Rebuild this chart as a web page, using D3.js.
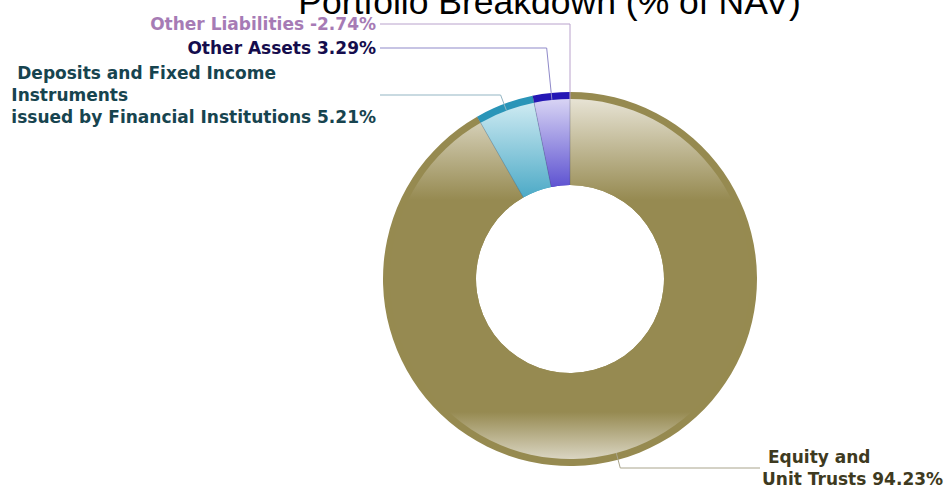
<!DOCTYPE html>
<html>
<head>
<meta charset="utf-8">
<script src="https://cdn.jsdelivr.net/npm/d3@7/dist/d3.min.js"></script>
<style>
  html, body { margin: 0; padding: 0; background: #fff; overflow: hidden; }
  svg { display: block; }
  .lbl { font-family: "DejaVu Sans", Verdana, sans-serif; font-weight: bold; font-size: 17px; white-space: pre; }
</style>
</head>
<body>
<svg id="chart" width="949" height="487"></svg>
<script>
// ---- data ----
const title = "Portfolio Breakdown (% of NAV)";
const categories = ["Equity and Unit Trusts", "Deposits and Fixed Income Instruments issued by Financial Institutions", "Other Assets", "Other Liabilities"];
const values = [94.23, 5.21, 3.29, -2.74];
const labelLines = [[" Equity and", "Unit Trusts"], [" Deposits and Fixed Income", "Instruments", "issued by Financial Institutions"], ["Other Assets"], ["Other Liabilities"]];

// ---- styles ----
const ringColors  = ["#968A50", "#2A95B8", "#2517B5", "#A67BB5"];
const baseColors  = ["#968A51", "#49A8C5", "#4C40CC", "#A67BB5"];
const topColors   = ["#E7E3D4", "#D3EDF4", "#D8D4F4", "#E0D0EA"];
const botColors   = ["#DAD5C2", "#C8E6EE", "#CCC8F0", "#E0D0EA"];
const textColors  = ["#3E3A20", "#17444F", "#150D4D", "#A67BB5"];
const lineColors  = ["#A9A48C", "#93B5C3", "#8F89C9", "#B9A2CC"];
const labelY      = [468, 95, 48, 24];
const labelSide   = ["right", "left", "left", "left"];

const W = 949, H = 487;
const cx = 570, cy = 279, R = 187, Rin = 180, hole = 94;
const svg = d3.select("#chart");

const data = categories.map((c, i) => ({ name: c, value: values[i], i }));
const pie = d3.pie().sort(null).value(d => d.value).startAngle(0).endAngle(2 * Math.PI);
const arcs = pie(data);

const defs = svg.append("defs");
arcs.forEach((a, i) => {
  // local (centered) coordinates
  const g = defs.append("linearGradient")
    .attr("id", "grad" + i)
    .attr("gradientUnits", "userSpaceOnUse")
    .attr("x1", 0).attr("x2", 0)
    .attr("y1", -Rin).attr("y2", Rin);
  const yOff = y => (y - (cy - Rin)) / (2 * Rin);
  g.append("stop").attr("offset", 0).attr("stop-color", topColors[i]);
  g.append("stop").attr("offset", yOff(200)).attr("stop-color", baseColors[i]);
  g.append("stop").attr("offset", yOff(412)).attr("stop-color", baseColors[i]);
  g.append("stop").attr("offset", 1).attr("stop-color", botColors[i]);
});

const gPie = svg.append("g").attr("transform", `translate(${cx},${cy})`);
const ringArc = d3.arc().innerRadius(hole).outerRadius(R);
const innerArc = d3.arc().innerRadius(hole).outerRadius(Rin);

const drawn = arcs.filter(a => a.endAngle - a.startAngle > 0);
gPie.selectAll("path.ring").data(drawn).enter().append("path")
  .attr("class", "ring")
  .attr("d", ringArc)
  .attr("fill", d => ringColors[d.index]);

gPie.selectAll("path.inner").data(drawn).enter().append("path")
  .attr("class", "inner")
  .attr("d", innerArc)
  .attr("fill", d => `url(#grad${d.index})`);

// separators
gPie.selectAll("line.sep").data(drawn).enter().append("line")
  .attr("class", "sep")
  .attr("x1", d => hole * Math.sin(d.startAngle))
  .attr("y1", d => -hole * Math.cos(d.startAngle))
  .attr("x2", d => R * Math.sin(d.startAngle))
  .attr("y2", d => -R * Math.cos(d.startAngle))
  .attr("stroke", "rgba(70,70,90,0.35)")
  .attr("stroke-width", 0.8);

// leader lines & labels
const fmt = v => v.toFixed(2);
const gLab = svg.append("g");
arcs.forEach((a, i) => {
  const mid = (a.startAngle + a.endAngle) / 2;
  const sx = cx + Rin * Math.sin(mid), sy = cy - Rin * Math.cos(mid);
  const ly = labelY[i];
  const t = (ly - cy) / (-Math.cos(mid));
  const ex = cx + t * Math.sin(mid);
  const endX = labelSide[i] === "left" ? 380 : 760;
  gLab.append("polyline")
    .attr("points", `${sx},${sy} ${ex},${ly} ${endX},${ly}`)
    .attr("fill", "none")
    .attr("stroke", lineColors[i])
    .attr("stroke-width", 1);

  const lines = labelLines[i].slice();
  lines[lines.length - 1] = lines[lines.length - 1] + " " + fmt(values[i]) + "%";
  const n = lines.length;
  const txt = gLab.append("text").attr("class", "lbl").attr("fill", textColors[i]);
  const tspans = lines.map((s, k) => txt.append("tspan")
    .attr("y", ly + 6 + (k - (n - 1) / 2) * 22)
    .text(s));
  if (labelSide[i] === "left") {
    let maxW = 0;
    tspans.forEach(ts => { maxW = Math.max(maxW, ts.node().getComputedTextLength()); });
    tspans.forEach(ts => ts.attr("x", 376 - maxW));
  } else {
    tspans.forEach(ts => ts.attr("x", 762));
  }
});

// title
svg.append("text")
  .attr("x", 549.5).attr("y", 14)
  .attr("text-anchor", "middle")
  .attr("font-family", "'Liberation Sans', Arial, sans-serif")
  .attr("font-size", 35.5)
  .attr("fill", "#000")
  .text(title);
</script>
</body>
</html>
